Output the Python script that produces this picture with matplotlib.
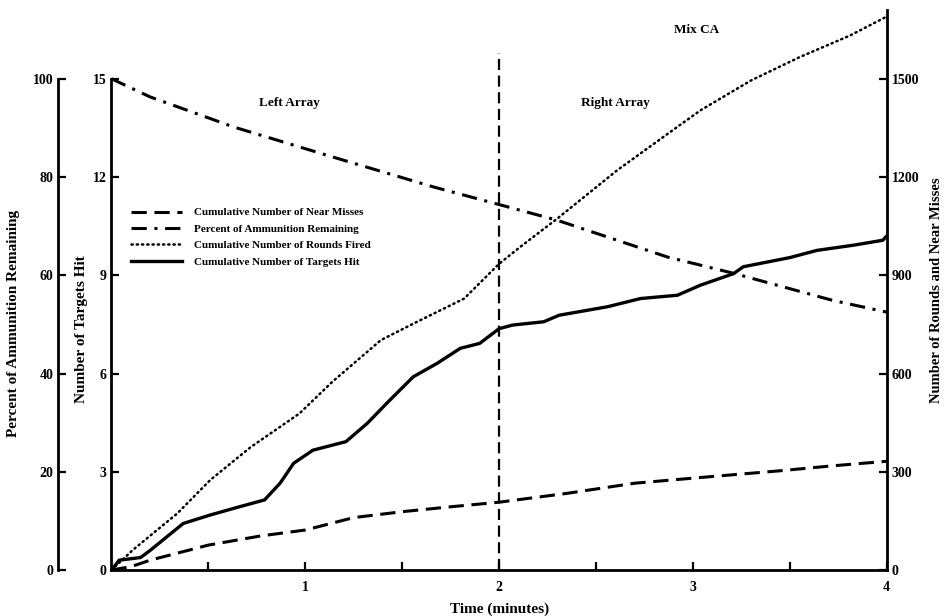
import matplotlib
matplotlib.use("Agg")
import matplotlib.pyplot as plt
from matplotlib.lines import Line2D

plt.rcParams['font.family'] = ['Liberation Serif', 'DejaVu Serif']
plt.rcParams['font.weight'] = 'bold'

# cumulative near misses (rounds scale)
t_near = [0, 0.1, 0.2, 0.5, 0.77, 1.0, 1.25, 1.5, 1.75, 2.0, 2.35, 2.7, 3.05, 3.45, 3.7, 4.0]
near = [0, 10, 30, 76, 104, 122, 160, 178, 193, 207, 234, 265, 283, 303, 317, 332]

# cumulative rounds fired (rounds scale)
t_rounds = [0, 0.11, 0.34, 0.51, 0.72, 0.97, 1.14, 1.39, 1.56, 1.82, 2.0, 2.11, 2.3,
            2.61, 2.87, 3.04, 3.3, 3.55, 3.81, 4.0]
rounds = [0, 61, 173, 275, 376, 478, 575, 702, 753, 829, 935, 987, 1073,
          1221, 1332, 1404, 1495, 1566, 1632, 1690]

# percent of ammunition remaining
t_pct = [0, 0.2, 0.63, 1.14, 1.66, 2.0, 2.3, 2.87, 3.21, 3.72, 4.0]
pct = [100, 96.3, 90.2, 84.1, 78.0, 74.4, 71.2, 63.7, 60.4, 54.9, 52.5]

# cumulative targets hit
t_hits = [0, 0.04, 0.15, 0.2, 0.37, 0.51, 0.66, 0.79, 0.87, 0.94, 1.04, 1.21, 1.32, 1.42,
          1.557, 1.68, 1.8, 1.9, 2.0, 2.07, 2.23, 2.31, 2.56, 2.73, 2.92, 3.04, 3.21,
          3.26, 3.5, 3.64, 3.83, 3.98, 4.0]
hits = [0, 0.3, 0.38, 0.6, 1.42, 1.68, 1.93, 2.14, 2.65, 3.26, 3.66, 3.92, 4.48, 5.09,
        5.90, 6.31, 6.77, 6.92, 7.37, 7.48, 7.58, 7.78, 8.04, 8.29, 8.39, 8.70, 9.05,
        9.26, 9.54, 9.76, 9.92, 10.07, 10.2]

hit_ticks = [0, 3, 6, 9, 12, 15]
pct_ticks = [0, 20, 40, 60, 80, 100]
round_ticks = [0, 300, 600, 900, 1200, 1500]

fig = plt.figure(figsize=(9.44, 6.16), dpi=100)
ax = fig.add_axes([0.1181, 0.0747, 0.8212, 0.909])
ax.set_xlim(0, 4)
ax.set_ylim(0, 17.1)

axr = ax.twinx()
axr.set_ylim(0, 1710)
axp = ax.twinx()
axp.set_ylim(0, 114)

for a in (ax, axr, axp):
    a.spines['top'].set_visible(False)
    a.patch.set_visible(False)
for a in (axr, axp):
    a.spines['bottom'].set_visible(False)
axr.spines['left'].set_visible(False)
axp.spines['right'].set_visible(False)
ax.spines['right'].set_visible(False)

lw_sp = 2.0
ax.spines['left'].set_bounds(0, 15)
ax.spines['left'].set_linewidth(lw_sp)
ax.spines['bottom'].set_linewidth(lw_sp)
axr.spines['right'].set_linewidth(lw_sp)

axp.yaxis.set_ticks_position('left')
axp.yaxis.set_label_position('left')
axp.spines['left'].set_visible(True)
axp.spines['left'].set_position(('axes', -0.0686))
axp.spines['left'].set_bounds(0, 100)
axp.spines['left'].set_linewidth(lw_sp)

tick_kw = dict(direction='in', length=6, width=1.6, labelsize=10)
ax.set_yticks(hit_ticks)
ax.set_xticks([1, 2, 3, 4])
ax.set_xticks([0.5, 1.5, 2.5, 3.5], minor=True)
ax.tick_params(axis='both', which='both', **tick_kw)
ax.tick_params(axis='x', pad=8)
axr.set_yticks(round_ticks)
axr.tick_params(axis='y', **tick_kw)
axp.set_yticks(pct_ticks)
axp.tick_params(axis='y', **tick_kw)

ax.set_xlabel('Time (minutes)', fontsize=11, fontweight='bold', labelpad=6)
ax.set_ylabel('Number of Targets Hit', fontsize=11, fontweight='bold')
ax.yaxis.set_label_coords(-0.03, 0.43)
axp.set_ylabel('Percent of Ammunition Remaining', fontsize=11, fontweight='bold')
axp.yaxis.set_label_coords(-0.118, 0.44)
axr.set_ylabel('Number of Rounds and Near Misses', fontsize=10.5, fontweight='bold')
axr.yaxis.set_label_coords(1.056, 0.5)

ls_near = (0, (5, 2.5))
ls_pct = (0, (5, 2.5, 1, 2.5))
ls_rounds = (0, (0.5, 1.6))

axr.plot(t_near, near, color='black', lw=2.2, linestyle=ls_near)
axr.plot(t_rounds, rounds, color='black', lw=1.8, linestyle=ls_rounds,
         dash_capstyle='round')
axp.plot(t_pct, pct, color='black', lw=2.2, linestyle=ls_pct)
ax.plot(t_hits, hits, color='black', lw=2.4, solid_capstyle='round',
        solid_joinstyle='round')

ax.plot([2, 2], [0, 15.8], color='black', lw=1.6, linestyle=(0, (5, 2.5)))

ax.text(0.92, 14.25, 'Left Array', ha='center', va='center', fontsize=9.5, fontweight='bold')
ax.text(2.6, 14.25, 'Right Array', ha='center', va='center', fontsize=9.5, fontweight='bold')
ax.text(3.02, 16.5, 'Mix CA', ha='center', va='center', fontsize=9.5, fontweight='bold')

handles = [
    Line2D([], [], color='black', lw=2.2, linestyle=ls_near),
    Line2D([], [], color='black', lw=2.2, linestyle=ls_pct),
    Line2D([], [], color='black', lw=1.8, linestyle=ls_rounds, dash_capstyle='round'),
    Line2D([], [], color='black', lw=2.4),
]
labels = ['Cumulative Number of Near Misses',
          'Percent of Ammunition Remaining',
          'Cumulative Number of Rounds Fired',
          'Cumulative Number of Targets Hit']
leg = ax.legend(handles, labels, loc='upper left', bbox_to_anchor=(0.012, 0.665),
                frameon=False, fontsize=8, handlelength=4.6, handletextpad=1.1,
                labelspacing=0.6)
for txt in leg.get_texts():
    txt.set_fontweight('bold')

fig.savefig('out.png', dpi=100)
